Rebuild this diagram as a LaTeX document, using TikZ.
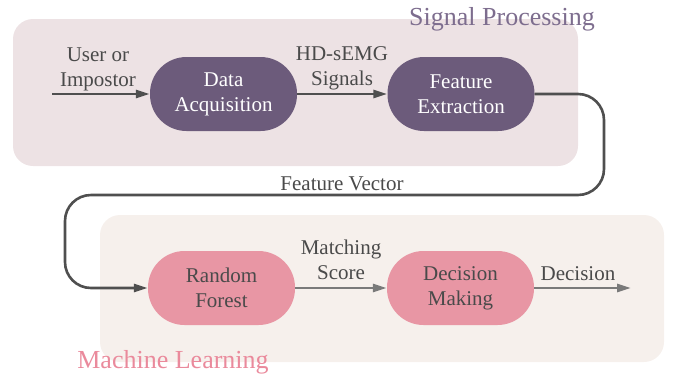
\documentclass[tikz,border=0pt]{standalone}
\usepackage{fontspec}
\setmainfont{Liberation Serif}
\usetikzlibrary{arrows.meta}

\definecolor{sigbg}{HTML}{EDE2E4}
\definecolor{mlbg}{HTML}{F6F0EC}
\definecolor{sigfill}{HTML}{6C5B7B}
\definecolor{mlfill}{HTML}{E896A4}
\definecolor{sigtitle}{HTML}{7D6D8E}
\definecolor{mltitle}{HTML}{EA8A9C}
\definecolor{labeltext}{HTML}{4A4A4A}
\definecolor{darkline}{HTML}{4F4F4F}
\definecolor{greyline}{HTML}{7A7A7A}

\tikzset{
  stage/.style={rectangle, rounded corners=36.5pt, minimum width=147pt,
    minimum height=74pt, inner sep=0pt, align=center,
    font=\fontsize{21}{25}\selectfont},
  sigstage/.style={stage, fill=sigfill, text=white},
  mlstage/.style={stage, fill=mlfill, text=labeltext},
  flowlabel/.style={align=center, text=labeltext, inner sep=0pt,
    font=\fontsize{21}{25}\selectfont},
  grouptitle/.style={inner sep=0pt, font=\fontsize{26}{30}\selectfont},
  darkflow/.style={draw=darkline, line width=2.6pt,
    -{Triangle[length=14pt,width=8pt]}},
  greyflow/.style={draw=greyline, line width=2.6pt,
    -{Triangle[length=14pt,width=8pt]}},
}

\begin{document}
\begin{tikzpicture}[x=1pt,y=-1pt]
\useasboundingbox (0,0) rectangle (678,376);

% group backgrounds
\fill[sigbg, rounded corners=20pt] (13,19) rectangle (578,166);
\fill[mlbg, rounded corners=20pt] (100,215) rectangle (664,362);

% group titles
\node[grouptitle, text=sigtitle, anchor=base] (sptitle) at (502,25) {Signal Processing};
\node[grouptitle, text=mltitle, anchor=base] (mltitle) at (173,368) {Machine Learning};

% stages
\node[sigstage] (acq) at (223.5,94) {Data\\Acquisition};
\node[sigstage] (feat) at (461,94) {Feature\\Extraction};
\node[mlstage] (rf) at (221.5,288) {Random\\Forest};
\node[mlstage] (dec) at (460.5,288) {Decision\\Making};

% free ends
\coordinate (input) at (52,94);
\coordinate (output) at (631,288);

% connectors
\draw[darkflow] (input) -- (acq.west);
\draw[darkflow] (acq.east) -- (feat.west);
\draw[darkflow, rounded corners=26pt]
  (feat.east) -- (604,94) -- (604,195) -- (65,195) -- (65,288) -- (rf.west);
\draw[greyflow] (rf.east) -- (dec.west);
\draw[greyflow] (dec.east) -- (output);

% connector labels
\node[flowlabel, anchor=south] (inlabel) at (98,91.5) {User or\\Impostor};
\node[flowlabel, anchor=south] (semglabel) at (342,90) {HD-sEMG\\Signals};
\node[flowlabel, anchor=base] (fvlabel) at (342,190) {Feature Vector};
\node[flowlabel, anchor=south] (msclabel) at (341,280) {Matching\\Score};
\node[flowlabel, anchor=base] (declabel) at (578,280) {Decision};
\end{tikzpicture}
\end{document}
